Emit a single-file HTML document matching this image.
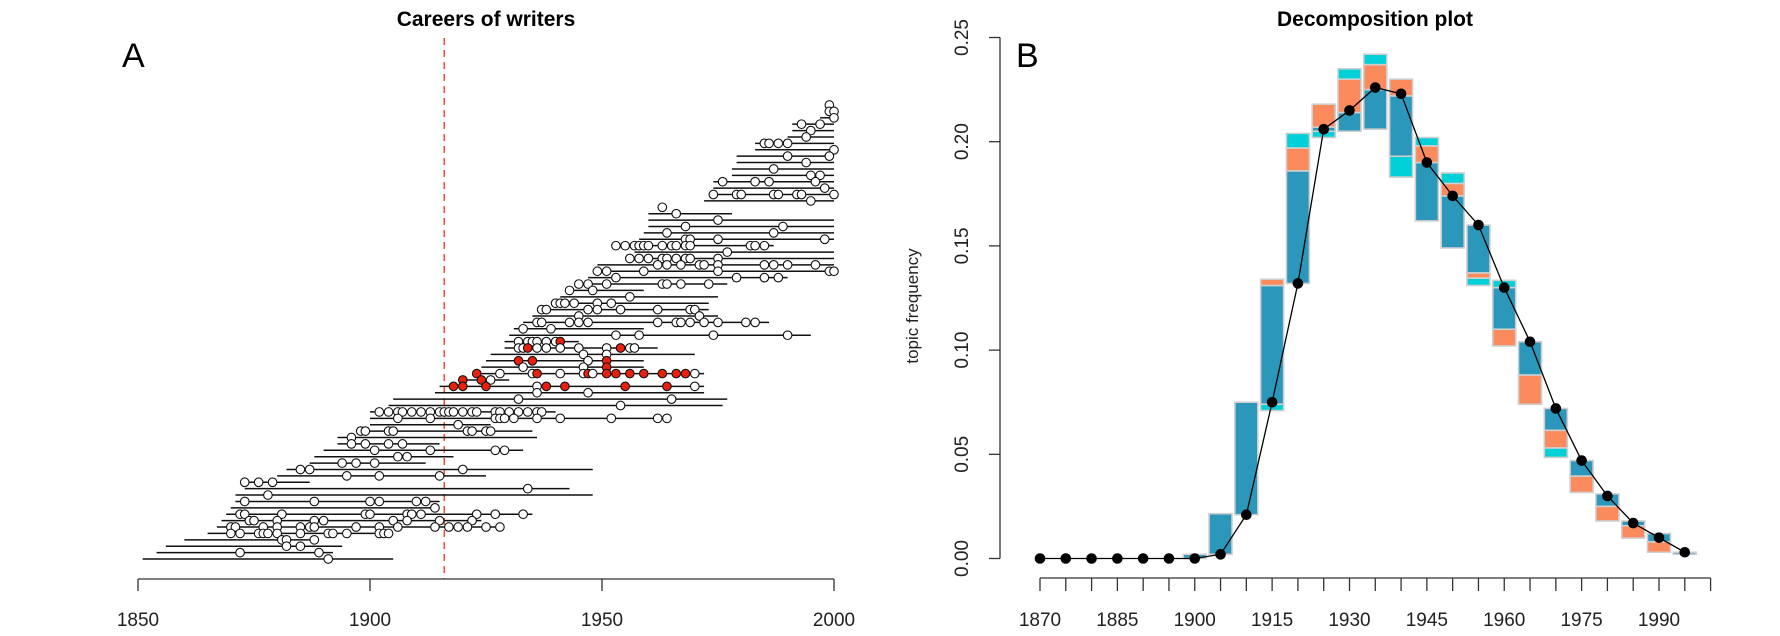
<!DOCTYPE html>
<html><head><meta charset="utf-8"><style>
html,body{margin:0;padding:0;background:#fff;}
svg{display:block;font-family:"Liberation Sans",sans-serif;}
</style></head><body>
<svg id="chart" width="1780" height="636" viewBox="0 0 1780 636" xmlns="http://www.w3.org/2000/svg">
<g id="panelA">
<text x="486" y="26" font-size="21" font-weight="bold" text-anchor="middle">Careers of writers</text>
<text x="122" y="67" font-size="34" font-weight="300">A</text>
</g>
<g id="panelB">
<text x="1375" y="26" font-size="21" font-weight="bold" text-anchor="middle">Decomposition plot</text>
<text x="1016" y="67" font-size="34" font-weight="300">B</text>
<text transform="translate(918,306) rotate(-90)" font-size="17" text-anchor="middle" fill="#222">topic frequency</text>
</g>
</svg>
<script>
// ---------- Panel A data ----------
const careerStart=[1999,1998,1997,1991,1991,1990,1983,1983,1979,1979,1978,1978,1974,1974,1973,1972,
1963,1960,1960,1960,1959,1958,1953,1957,1956,1949,1948,1947,1944,1943,1941,1939,1936,1935,1933,1931,1930,1929,1929,1926,1925,1924,1923,1919,1915,1914,1905,1904,
1900,1900,1900,1897,1893,1893,1890,1888,1887,1882,1880,1873,1873,1871,1871,1870,1869,1868,1867,1865,1860,1856,1854,1851];
const careerEnd=[1999,2000,2000,2000,2000,2000,2000,2000,2000,2000,2000,2000,2000,2000,2000,2000,
1963,1978,2000,2000,2000,2000,1987,2000,2000,2000,2000,1990,1977,1959,1975,1973,1973,1975,1986,1959,1995,1945,1962,1970,1959,1959,1972,1930,1972,1972,1977,1976,
1940,1965,1926,1935,1936,1915,1933,1918,1912,1948,1925,1887,1943,1948,1915,1914,1935,1924,1927,1905,1888,1894,1892,1905];
const pubYears=[[1999],[1999,2000],[2000],[1993,1997],[1995],[1994],[1985,1986,1988,1990],[2000],[1990,1999],[1994],[1987],[1995,1997],[1976,1983,1986,1996],[1998],[1974,1979,1980,1987,1988,1992,1993,2000],[1995],
[1963],[1966],[1975],[1968,1989],[1964,1987],[1968,1969,1975,1998],[1953,1955,1957,1958,1959,1960,1963,1965,1966,1968,1969,1982,1983,1985],[1977],[1956,1958,1960,1963,1964,1966,1968,1969,1975],[1962,1964,1967,1971,1972,1975,1985,1987,1990,1996],[1949,1951,1959,1975,1999,2000],[1953,1979,1985,1988],[1945,1947,1951,1963,1964,1967,1973],[1943,1948],[1956],[1940,1941,1942,1944,1949,1952],[1937,1938,1947,1949,1954,1962,1969,1970],[1945,1971],[1936,1937,1943,1945,1947,1962,1966,1967,1969,1972,1975,1981,1983],[1933,1939],[1953,1958,1974,1990],[1932,1934,1935,1936,1938,1940,1941],[1932,1933,1934,1936,1938,1941,1945,1951,1954,1956,1957],[1946,1951],[1932,1935,1947,1951],[1933,1946,1951],[1923,1928,1935,1936,1941,1946,1947,1948,1951,1953,1956,1959,1963,1966,1968,1970],[1920,1924,1926],[1918,1920,1925,1936,1938,1942,1955,1964,1970],[1936,1947],[1932,1965],[1954],
[1902,1904,1906,1907,1909,1911,1913,1915,1916,1917,1918,1920,1922,1923,1927,1928,1930,1932,1934,1936,1937],[1906,1913,1927,1928,1929,1931,1936,1941,1952,1962,1964],[1919],[1898,1899,1904,1905,1921,1922,1925,1926],[1896],[1896,1899,1904,1907],[1901,1913,1927,1929],[1906,1908],[1894,1897,1901],[1885,1887,1920],[1895,1902,1915],[1873,1876,1879],[1934],[1878],[1873,1888,1900,1902,1910,1912],[1914],[1872,1873,1881,1899,1900,1908,1909,1911,1923,1927,1933],[1874,1875,1880,1888,1890,1905,1908,1915,1922],[1870,1871,1877,1880,1885,1887,1888,1897,1902,1906,1914,1917,1919,1921,1925,1928],[1870,1872,1876,1877,1878,1880,1885,1891,1892,1895,1902,1903,1904],[1881,1882,1888],[1882,1885],[1872,1889],[1891]];
const redYears=[[],[],[],[],[],[],[],[],[],[],[],[],[],[],[],[],
[],[],[],[],[],[],[],[],[],[],[],[],[],[],[],[],[],[],[],[],[],[1941],[1934,1954],[],[1932,1935,1951],[1951],[1923,1936,1947,1951,1953,1956,1959,1963,1966,1968],[1920,1924],[1918,1920,1925,1938,1942,1955,1964],[],[],[],
[],[],[],[],[],[],[],[],[],[],[],[],[],[],[],[],[],[],[],[],[],[],[],[]];
const markerYear=1916;
const aTicks=[1850,1900,1950,2000];

// ---------- Panel B data ----------
const bYears=[1870,1875,1880,1885,1890,1895,1900,1905,1910,1915,1920,1925,1930,1935,1940,1945,1950,1955,1960,1965,1970,1975,1980,1985,1990,1995];
const lineVals=[0,0,0,0,0,0,0,0.002,0.021,0.075,0.132,0.206,0.215,0.226,0.223,0.190,0.174,0.160,0.130,0.104,0.072,0.047,0.030,0.017,0.010,0.003];
const blueLo=[0,0,0,0,0,0,0,0.002,0.021,0.074,0.132,0.205,0.205,0.206,0.193,0.162,0.149,0.137,0.110,0.088,0.0615,0.0395,0.025,0.0157,0.008,0.002];
const blueHi=[0,0,0,0,0,0,0.002,0.0215,0.075,0.131,0.186,0.207,0.214,0.225,0.222,0.190,0.174,0.160,0.130,0.104,0.072,0.047,0.031,0.018,0.012,0.003];
const orangeLo=[0,0,0,0,0,0,0,0,0,0.131,0.186,0.207,0.214,0.225,0.222,0.190,0.174,0.1345,0.102,0.074,0.053,0.0317,0.018,0.0098,0.003,0];
const orangeHi=[0,0,0,0,0,0,0,0,0,0.134,0.197,0.218,0.230,0.237,0.230,0.198,0.180,0.137,0.110,0.088,0.0615,0.0395,0.025,0.0157,0.008,0];
const cyanLo=[0,0,0,0,0,0,0,0,0,0.071,0.197,0.202,0.230,0.237,0.183,0.198,0.180,0.131,0.130,0,0.0485,0,0,0,0,0];
const cyanHi=[0,0,0,0,0,0,0,0,0,0.074,0.204,0.205,0.235,0.242,0.193,0.202,0.185,0.1345,0.1335,0,0.053,0,0,0,0,0];
const yTicks=[0,0.05,0.10,0.15,0.20,0.25];
const yTickLabels=["0.00","0.05","0.10","0.15","0.20","0.25"];
const xLabelYears=[1870,1885,1900,1915,1930,1945,1960,1975,1990];

const NS="http://www.w3.org/2000/svg";
const svg=document.getElementById('chart');
function mk(tag,attrs,parent){const e=document.createElementNS(NS,tag);for(const k in attrs)e.setAttribute(k,attrs[k]);(parent||svg).appendChild(e);return e;}

// ---- Panel A ----
const gA=document.getElementById('panelA');
const ax=y=>138+(y-1850)*(834-138)/150;
const nRows=careerStart.length;
const ay=i=>105+i*(559-105)/(nRows-1);
const dash=mk('line',{x1:ax(markerYear),x2:ax(markerYear),y1:38,y2:579,stroke:'#f5402a','stroke-width':1.4,'stroke-dasharray':'7,5'},gA);


for(let i=0;i<nRows;i++){
  const g=mk('g',{},gA);
  
  
  const ln=mk('line',{x1:ax(careerStart[i]),x2:ax(careerEnd[i]),y1:ay(i),y2:ay(i),stroke:'#111','stroke-width':1.5},g);
  
  
  pubYears[i].forEach(yr=>{
    const red=redYears[i].includes(yr);
    const c=mk('circle',{cx:ax(yr),cy:ay(i),r:4.3,fill:red?'#e8200c':'#fff',stroke:'#111','stroke-width':1.1},g);
    
    
  });
}
const axA=mk('line',{x1:ax(1850),x2:ax(2000),y1:579,y2:579,stroke:'#333','stroke-width':1.3},gA);


aTicks.forEach(t=>{
  mk('line',{x1:ax(t),x2:ax(t),y1:579,y2:591,stroke:'#333','stroke-width':1.3},gA);
  const tx=mk('text',{x:ax(t),y:626,'font-size':19,'text-anchor':'middle',fill:'#222'},gA);
  tx.textContent=t;
  
  
});

// ---- Panel B ----
const gB=document.getElementById('panelB');
const bx=y=>1040+(y-1870)*(1659-1040)/120;
const by=v=>558.5-v*(558.5-37.5)/0.25;
const bw=23;
function seg(i,lo,hi,color,name){
  if(hi-lo<=0)return;
  const r=mk('rect',{x:bx(bYears[i])-bw/2,y:by(hi),width:bw,height:by(lo)-by(hi),fill:color,stroke:'#cfcfcf','stroke-width':1.6},gB);
  
  
}
for(let i=0;i<bYears.length;i++){
  seg(i,blueLo[i],blueHi[i],'#2b98bb','bar-main-'+bYears[i]);
  seg(i,orangeLo[i],orangeHi[i],'#fb8a5c','bar-orange-'+bYears[i]);
  seg(i,cyanLo[i],cyanHi[i],'#00d0d8','bar-cyan-'+bYears[i]);
}
const pl=mk('polyline',{points:bYears.map((y,i)=>bx(y)+','+by(lineVals[i])).join(' '),fill:'none',stroke:'#000','stroke-width':1.3},gB);


bYears.forEach((y,i)=>{
  const c=mk('circle',{cx:bx(y),cy:by(lineVals[i]),r:5.3,fill:'#000'},gB);
  
  
});
const yAx=mk('line',{x1:1000,x2:1000,y1:by(0),y2:by(0.25),stroke:'#333','stroke-width':1.3},gB);


yTicks.forEach((v,i)=>{
  mk('line',{x1:989,x2:1000,y1:by(v),y2:by(v),stroke:'#333','stroke-width':1.3},gB);
  const tx=mk('text',{transform:`translate(968,${by(v)}) rotate(-90)`,'font-size':19,'text-anchor':'middle',fill:'#222'},gB);
  tx.textContent=yTickLabels[i];
  
  
});
const xAx=mk('line',{x1:bx(1870),x2:bx(2000),y1:578,y2:578,stroke:'#333','stroke-width':1.3},gB);


for(let t=1870;t<=2000;t+=5){mk('line',{x1:bx(t),x2:bx(t),y1:578,y2:591,stroke:'#333','stroke-width':1.3},gB);}
xLabelYears.forEach(t=>{
  const tx=mk('text',{x:bx(t),y:626,'font-size':19,'text-anchor':'middle',fill:'#222'},gB);
  tx.textContent=t;
  
  
});
</script>
</body></html>
